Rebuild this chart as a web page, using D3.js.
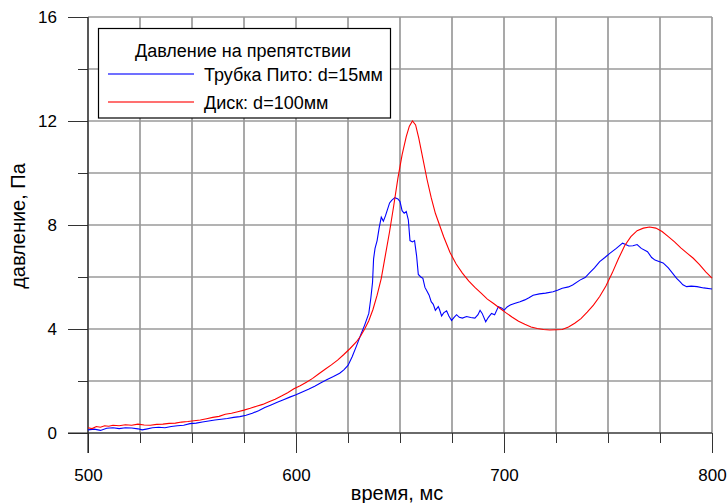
<!DOCTYPE html>
<html>
<head>
<meta charset="utf-8">
<script src="https://cdn.jsdelivr.net/npm/d3@7"></script>
<style>
  html, body { margin: 0; padding: 0; background: #fff; }
  svg { display: block; font-family: "Liberation Sans", Arial, sans-serif; }
</style>
</head>
<body>
<svg id="chart" width="728" height="503"></svg>
<script>
// Disk, d = 100 mm: time (ms) and pressure (Pa)
const diskTime = [500,502,504,506,508,510,512,515,518,521,524,527,530,533,536,539,542,545,548,551,554,557,560,563,566,569,572,575,578,581,584,587,590,593,596,599,602,605,608,611,614,617,620,623,626,629,631,633,635,637,639,641,643,645,647,649,651,653,654.5,656,657.5,659,661,663,665,667,669,671,674,677,680,683,686,689,692,695,698,701,704,707,710,713,716,719,722,725,728,731,734,737,740,743,746,749,752,755,758,761,764,767,770,773,776,779,782,785,788,791,794,797,800];
const diskPressure = [0.2,0.17,0.25,0.22,0.28,0.26,0.3,0.28,0.32,0.3,0.34,0.31,0.3,0.33,0.34,0.37,0.38,0.42,0.44,0.47,0.5,0.55,0.6,0.64,0.72,0.76,0.82,0.88,0.95,1.03,1.1,1.2,1.3,1.42,1.55,1.7,1.82,1.95,2.1,2.28,2.45,2.62,2.8,3.02,3.25,3.5,3.72,4.0,4.32,4.75,5.3,5.95,6.85,7.75,8.75,9.8,10.7,11.4,11.8,12.0,11.85,11.35,10.55,9.75,9.05,8.45,8.0,7.55,6.95,6.5,6.15,5.85,5.6,5.38,5.15,4.98,4.8,4.62,4.45,4.3,4.18,4.08,4.02,3.98,3.96,3.97,3.98,4.08,4.22,4.4,4.65,4.92,5.25,5.65,6.15,6.7,7.2,7.55,7.78,7.88,7.92,7.88,7.75,7.55,7.35,7.12,6.92,6.72,6.48,6.2,5.96];

// Pitot tube, d = 15 mm: time (ms) and pressure (Pa)
const pitotTime = [500,503,506,509,512,515,518,521,524,526,528,531,534,537,540,543,546,549,552,555,558,561,564,567,570,573,576,579,582,585,588,591,594,597,600,603,606,609,612,615,618,621,623,625,627,629,631,633,635,636,636.8,637.3,638,639,640,641,642,643,644,645,646,647.5,649,650,651,652,653,654,654.8,656,657,658,658.8,660,661,662,663,664,665,666,667,668.4,669,670,671,672.4,673.5,674.8,676,677.2,678.5,680,682,684,686,687.5,688.5,689.5,691.2,692.5,694,695.5,697.3,699,700,701.5,703,705,707.7,710,712,714,717,720,723.6,726,728,731,733,736.5,739,741,743.5,746,748.5,751,754,757,758.5,760,762,764,766,769,771,772.6,774.5,776.5,779,781,783,784.6,786,787.8,790,792.8,796,800];
const pitotPressure = [0.12,0.15,0.1,0.18,0.2,0.17,0.2,0.19,0.16,0.12,0.15,0.2,0.22,0.2,0.25,0.28,0.3,0.36,0.38,0.42,0.46,0.5,0.53,0.56,0.6,0.63,0.68,0.76,0.86,0.98,1.08,1.18,1.28,1.38,1.47,1.58,1.68,1.8,1.93,2.06,2.17,2.3,2.43,2.6,2.93,3.33,3.75,4.15,4.6,5.2,5.8,6.7,7.1,7.4,7.9,8.3,8.15,8.35,8.6,8.85,8.95,9.05,9.0,8.9,8.55,8.45,8.52,8.2,7.4,7.35,7.4,6.8,6.1,6.0,5.95,5.6,5.45,5.3,5.05,4.95,4.72,4.86,4.75,4.5,4.62,4.7,4.5,4.33,4.45,4.55,4.45,4.42,4.48,4.44,4.42,4.55,4.72,4.6,4.28,4.45,4.6,4.55,4.86,4.8,4.72,4.85,4.92,4.98,5.05,5.12,5.2,5.3,5.35,5.38,5.43,5.5,5.57,5.62,5.69,5.88,5.98,6.15,6.35,6.59,6.75,6.92,7.1,7.3,7.25,7.19,7.2,7.25,7.1,6.97,6.75,6.65,6.6,6.54,6.35,6.15,5.95,5.82,5.7,5.63,5.65,5.63,5.58,5.54];

const xMajorTicks = [500, 600, 700, 800];
const yMajorTicks = [0, 4, 8, 12, 16];
const legendTitle = "Давление на препятствии";
const seriesNames = ["Трубка Пито: d=15мм", "Диск: d=100мм"];
const seriesColors = ["#0000ff", "#ff0000"];
const xTitle = "время, мс";
const yTitle = "давление, Па";

const svg = d3.select("#chart");
const plotLeft = 88, plotRight = 712, plotTop = 17, plotBottom = 433;

const x = d3.scaleLinear().domain([500, 800]).range([plotLeft, plotRight]);
const y = d3.scaleLinear().domain([0, 16]).range([plotBottom, plotTop]);

const xGridVals = d3.range(500, 801, 25);
const yGridVals = d3.range(0, 17, 2);

// grid
const grid = svg.append("g");
grid.selectAll("line.v").data(xGridVals).join("line").attr("class", "v")
  .attr("x1", d => x(d)).attr("x2", d => x(d))
  .attr("y1", plotTop).attr("y2", plotBottom)
  .attr("stroke", "#858585").attr("stroke-width", 1.4);
grid.selectAll("line.h").data(yGridVals).join("line").attr("class", "h")
  .attr("x1", plotLeft).attr("x2", plotRight)
  .attr("y1", d => y(d)).attr("y2", d => y(d))
  .attr("stroke", "#9a9a9a").attr("stroke-width", 1.4);

// minor ticks
const tickColor = "#333";
svg.append("g").attr("transform", `translate(0,${plotBottom})`)
  .call(d3.axisBottom(x).tickValues(xGridVals).tickSize(10).tickFormat(""))
  .call(g => g.select(".domain").remove())
  .call(g => g.selectAll("line").attr("stroke", tickColor));
svg.append("g").attr("transform", `translate(${plotLeft},0)`)
  .call(d3.axisLeft(y).tickValues(yGridVals).tickSize(10).tickFormat(""))
  .call(g => g.select(".domain").remove())
  .call(g => g.selectAll("line").attr("stroke", tickColor));

// major ticks with labels
svg.append("g").attr("transform", `translate(0,${plotBottom})`)
  .call(d3.axisBottom(x).tickValues(xMajorTicks).tickSize(20).tickPadding(16).tickFormat(d3.format("d")))
  .call(g => g.select(".domain").remove())
  .call(g => g.selectAll("line").attr("stroke", tickColor))
  .call(g => g.selectAll("text").attr("fill", "#000").attr("font-size", 17)
    .attr("font-family", "Liberation Sans, Arial, sans-serif"));
svg.append("g").attr("transform", `translate(${plotLeft},0)`)
  .call(d3.axisLeft(y).tickValues(yMajorTicks).tickSize(20).tickPadding(11).tickFormat(d3.format("d")))
  .call(g => g.select(".domain").remove())
  .call(g => g.selectAll("line").attr("stroke", tickColor))
  .call(g => g.selectAll("text").attr("fill", "#000").attr("font-size", 17)
    .attr("font-family", "Liberation Sans, Arial, sans-serif"));

// axis lines
svg.append("line").attr("x1", plotLeft).attr("x2", plotLeft).attr("y1", plotTop).attr("y2", plotBottom + 20)
  .attr("stroke", "#222").attr("stroke-width", 1.2);
svg.append("line").attr("x1", plotLeft - 20).attr("x2", plotRight).attr("y1", plotBottom).attr("y2", plotBottom)
  .attr("stroke", "#222").attr("stroke-width", 1.2);

// curves
const line = d3.line().x(d => x(d[0])).y(d => y(d[1]));
const pitot = d3.zip(pitotTime, pitotPressure);
const disk = d3.zip(diskTime, diskPressure);
svg.append("path").datum(pitot).attr("d", line)
  .attr("fill", "none").attr("stroke", seriesColors[0]).attr("stroke-width", 1.1);
svg.append("path").datum(disk).attr("d", line)
  .attr("fill", "none").attr("stroke", seriesColors[1]).attr("stroke-width", 1.1);

// legend
const lg = svg.append("g");
lg.append("rect").attr("x", 98.5).attr("y", 28.5).attr("width", 292).attr("height", 89.5)
  .attr("fill", "#fff").attr("stroke", "#000").attr("stroke-width", 1.2);
lg.append("text").attr("x", 243).attr("y", 57).attr("text-anchor", "middle")
  .attr("font-size", 18).text(legendTitle);
seriesNames.forEach((name, i) => {
  const yy = 74 + i * 28;
  lg.append("line").attr("x1", 108).attr("x2", 194).attr("y1", yy).attr("y2", yy)
    .attr("stroke", seriesColors[i]).attr("stroke-opacity", 0.75).attr("stroke-width", 1.4);
  lg.append("text").attr("x", 204).attr("y", yy + 6.5).attr("font-size", 18).text(name);
});

// axis titles
svg.append("text").attr("x", 397).attr("y", 500).attr("text-anchor", "middle")
  .attr("font-size", 20).text(xTitle);
svg.append("text").attr("transform", "translate(25,226) rotate(-90)").attr("text-anchor", "middle")
  .attr("font-size", 20).text(yTitle);
</script>
</body>
</html>
